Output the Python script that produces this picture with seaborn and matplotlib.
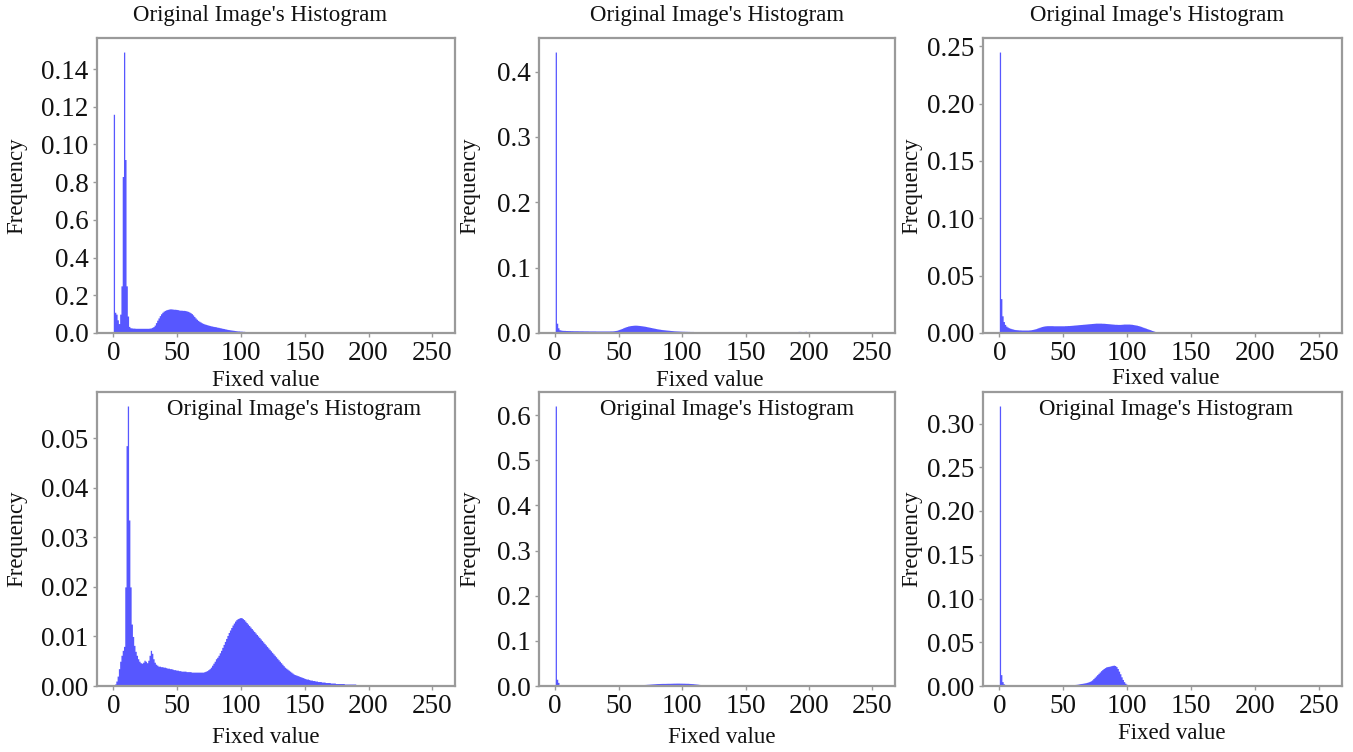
import numpy as np
import pandas as pd
import matplotlib
matplotlib.use("Agg")
import matplotlib.pyplot as plt
import seaborn as sns

# ---------------- data (frequency per grey level, in units of 1e-4) ----------------
grey_levels = list(range(256))
x_ticks = [0, 50, 100, 150, 200, 250]
title_text = "Original Image's Histogram"
x_label = "Fixed value"
y_label = "Frequency"

freq_a = [
    1160, 110, 100, 70, 50, 100, 250, 830, 1490, 920, 250, 90, 35, 28, 27, 26,
    26, 25, 25, 25, 25, 25, 25, 25, 25, 25, 25, 25, 26, 27, 30, 34,
    42, 55, 68, 80, 92, 102, 110, 116, 120, 123, 125, 127, 128, 128, 127, 126,
    126, 125, 124, 122, 121, 121, 120, 120, 119, 117, 115, 112, 108, 103, 96, 88,
    80, 73, 67, 62, 58, 54, 51, 48, 46, 44, 42, 40, 38, 37, 35, 34,
    33, 31, 30, 28, 27, 25, 24, 22, 21, 19, 18, 17, 16, 15, 14, 13,
    12, 11, 11, 10, 10, 9, 9, 8, 8, 8, 7, 7, 7, 7, 6, 6,
    6, 6, 6, 5, 5, 5, 5, 5, 5, 5, 5, 5, 4, 4, 4, 4,
    4, 4, 4, 4, 4, 4, 3, 3, 3, 3, 3, 3, 3, 3, 3, 3,
    3, 3, 3, 3, 3, 3, 2, 2, 2, 2, 2, 2, 2, 2, 2, 2,
    2, 2, 2, 1, 1, 1, 1, 1, 0, 0, 0, 0, 0, 0, 0, 0,
    0, 0, 0, 0, 0, 0, 0, 0, 0, 0, 0, 0, 0, 0, 0, 0,
    0, 0, 0, 0, 0, 0, 0, 0, 0, 0, 0, 0, 0, 0, 0, 0,
    0, 0, 0, 0, 0, 0, 0, 0, 0, 0, 0, 0, 0, 0, 0, 0,
    0, 0, 0, 0, 0, 0, 0, 0, 0, 0, 0, 0, 0, 0, 0, 0,
    0, 0, 0, 0, 0, 0, 0, 0, 0, 0, 0, 0, 0, 0, 0, 0,
]

freq_b = [
    4300, 150, 80, 50, 45, 42, 40, 40, 38, 38, 37, 37, 36, 36, 35, 35,
    35, 35, 34, 34, 34, 34, 33, 33, 33, 33, 32, 32, 32, 32, 32, 32,
    31, 31, 31, 31, 31, 31, 31, 31, 31, 31, 31, 32, 32, 33, 35, 38,
    42, 48, 55, 62, 70, 78, 86, 94, 100, 106, 110, 114, 116, 118, 120, 120,
    119, 117, 115, 112, 110, 107, 104, 100, 96, 92, 88, 84, 80, 76, 72, 68,
    64, 61, 58, 55, 52, 50, 48, 46, 44, 42, 40, 38, 36, 34, 33, 32,
    31, 30, 29, 28, 27, 27, 26, 26, 25, 25, 24, 24, 24, 23, 23, 23,
    22, 22, 22, 22, 21, 21, 21, 21, 21, 20, 20, 20, 20, 20, 20, 19,
    19, 19, 19, 19, 19, 18, 18, 18, 18, 18, 18, 18, 17, 17, 17, 17,
    17, 17, 17, 17, 16, 16, 16, 16, 16, 16, 16, 16, 15, 15, 15, 15,
    15, 15, 15, 15, 15, 14, 14, 14, 14, 14, 14, 14, 13, 13, 13, 13,
    13, 13, 13, 13, 12, 12, 12, 12, 12, 12, 12, 12, 14, 18, 22, 24,
    25, 24, 22, 20, 24, 26, 22, 18, 14, 10, 8, 6, 5, 4, 3, 3,
    2, 2, 1, 1, 1, 1, 0, 0, 0, 0, 0, 0, 0, 0, 0, 0,
    0, 0, 0, 0, 0, 0, 0, 0, 0, 0, 0, 0, 0, 0, 0, 0,
    0, 0, 0, 0, 0, 0, 0, 0, 0, 0, 0, 0, 0, 0, 0, 0,
]

freq_c = [
    2450, 300, 150, 100, 75, 60, 52, 46, 42, 38, 35, 32, 30, 29, 28, 27,
    27, 26, 26, 26, 26, 26, 26, 27, 28, 30, 32, 35, 38, 42, 46, 50,
    54, 57, 60, 62, 63, 64, 64, 64, 64, 64, 63, 63, 63, 63, 63, 63,
    63, 63, 63, 64, 64, 65, 65, 66, 67, 68, 69, 70, 71, 72, 73, 74,
    75, 76, 77, 78, 79, 80, 81, 82, 83, 84, 85, 86, 86, 86, 86, 86,
    85, 85, 84, 83, 82, 81, 80, 79, 78, 77, 76, 76, 75, 75, 75, 76,
    77, 78, 78, 78, 78, 78, 77, 76, 74, 72, 70, 68, 65, 62, 58, 54,
    50, 46, 42, 38, 34, 30, 26, 22, 18, 14, 10, 7, 4, 2, 1, 0,
    0, 0, 0, 0, 0, 0, 0, 0, 0, 0, 0, 0, 0, 0, 0, 0,
    0, 0, 0, 0, 0, 0, 0, 0, 0, 0, 0, 0, 0, 0, 0, 0,
    0, 0, 0, 0, 0, 0, 0, 0, 0, 0, 0, 0, 0, 0, 0, 0,
    0, 0, 0, 0, 0, 0, 0, 0, 0, 0, 0, 0, 0, 0, 0, 0,
    0, 0, 0, 0, 0, 0, 0, 0, 0, 0, 0, 0, 0, 0, 0, 0,
    0, 0, 0, 0, 0, 0, 0, 0, 0, 0, 0, 0, 0, 0, 0, 0,
    0, 0, 0, 0, 0, 0, 0, 0, 0, 0, 0, 0, 0, 0, 0, 0,
    0, 0, 0, 0, 0, 0, 0, 0, 0, 0, 0, 0, 0, 0, 0, 0,
]

freq_d = [
    0, 4, 10, 20, 35, 50, 62, 72, 80, 200, 485, 565, 335, 200, 125, 100,
    82, 70, 62, 55, 50, 47, 46, 48, 52, 50, 47, 52, 62, 72, 66, 55,
    48, 44, 42, 40, 40, 39, 39, 38, 38, 37, 36, 36, 35, 35, 34, 33,
    33, 32, 32, 31, 31, 30, 30, 30, 30, 29, 29, 29, 29, 28, 28, 28,
    28, 28, 28, 28, 28, 28, 28, 29, 30, 31, 33, 35, 38, 42, 46, 50,
    55, 58, 62, 67, 72, 78, 84, 90, 96, 102, 108, 113, 118, 123, 127, 131,
    134, 136, 137, 138, 138, 136, 134, 131, 128, 125, 122, 119, 116, 113, 110, 107,
    104, 101, 98, 95, 92, 89, 86, 83, 80, 77, 74, 71, 68, 65, 62, 59,
    56, 53, 50, 47, 44, 41, 38, 36, 34, 32, 30, 28, 26, 24, 23, 22,
    21, 20, 19, 18, 17, 16, 15, 14, 14, 13, 12, 12, 11, 11, 10, 10,
    9, 9, 9, 8, 8, 8, 7, 7, 7, 7, 6, 6, 6, 6, 5, 5,
    5, 5, 5, 5, 5, 4, 4, 4, 4, 4, 4, 4, 4, 4, 3, 3,
    3, 3, 3, 3, 3, 3, 3, 3, 3, 3, 3, 3, 3, 3, 3, 3,
    3, 3, 3, 3, 3, 3, 3, 3, 3, 3, 3, 3, 3, 3, 3, 3,
    3, 3, 3, 3, 3, 3, 3, 3, 3, 3, 3, 3, 3, 3, 2, 2,
    2, 2, 2, 2, 2, 2, 2, 2, 2, 2, 2, 2, 2, 2, 2, 2,
]

freq_e = [
    6200, 150, 80, 20, 10, 8, 8, 8, 8, 8, 8, 8, 8, 8, 8, 8,
    8, 8, 8, 8, 8, 8, 8, 8, 8, 8, 8, 8, 8, 8, 8, 8,
    8, 8, 8, 8, 8, 8, 8, 8, 8, 8, 8, 8, 8, 8, 8, 8,
    8, 8, 8, 8, 9, 9, 10, 10, 11, 12, 13, 14, 15, 16, 18, 20,
    22, 24, 26, 28, 30, 32, 34, 36, 38, 40, 42, 44, 46, 48, 50, 52,
    54, 55, 56, 57, 58, 58, 58, 59, 60, 60, 60, 61, 62, 63, 63, 64,
    64, 64, 63, 63, 62, 62, 61, 60, 60, 58, 56, 54, 52, 49, 46, 43,
    40, 36, 32, 28, 24, 20, 17, 14, 12, 10, 9, 8, 8, 7, 7, 7,
    7, 7, 7, 7, 6, 6, 6, 6, 6, 6, 6, 6, 6, 6, 6, 6,
    6, 6, 6, 6, 6, 6, 6, 6, 6, 6, 6, 6, 6, 6, 6, 6,
    6, 6, 6, 6, 6, 6, 6, 6, 5, 5, 5, 5, 5, 5, 5, 5,
    5, 5, 5, 5, 5, 5, 5, 5, 5, 5, 5, 5, 5, 5, 5, 5,
    5, 5, 5, 5, 5, 5, 5, 5, 5, 5, 5, 5, 5, 5, 5, 5,
    5, 5, 5, 5, 5, 5, 5, 5, 4, 4, 4, 4, 4, 4, 4, 4,
    4, 4, 4, 4, 4, 4, 4, 4, 4, 4, 4, 4, 4, 4, 4, 4,
    4, 4, 4, 4, 4, 4, 4, 4, 4, 4, 4, 4, 4, 4, 4, 0,
]

freq_f = [
    3200, 130, 50, 25, 18, 15, 13, 12, 11, 11, 10, 10, 10, 10, 10, 10,
    10, 10, 10, 10, 10, 10, 10, 10, 10, 10, 10, 10, 10, 10, 10, 10,
    10, 10, 10, 10, 10, 10, 10, 10, 10, 10, 10, 10, 10, 10, 10, 10,
    10, 10, 10, 11, 11, 12, 12, 13, 14, 15, 16, 18, 20, 22, 25, 28,
    30, 32, 35, 38, 42, 46, 52, 60, 70, 85, 100, 115, 130, 145, 160, 175,
    188, 200, 210, 218, 222, 225, 228, 232, 236, 238, 234, 222, 200, 170, 140, 105,
    75, 50, 32, 20, 15, 13, 12, 12, 11, 11, 11, 11, 11, 11, 11, 11,
    10, 10, 10, 10, 10, 10, 10, 10, 10, 10, 10, 10, 10, 10, 10, 10,
    10, 10, 10, 10, 10, 10, 10, 10, 10, 10, 10, 10, 10, 10, 10, 10,
    10, 10, 10, 10, 10, 10, 10, 10, 10, 10, 10, 10, 10, 10, 10, 10,
    10, 10, 10, 10, 10, 10, 10, 10, 10, 10, 10, 10, 10, 10, 10, 10,
    10, 10, 10, 10, 10, 10, 10, 10, 9, 9, 9, 9, 9, 9, 9, 9,
    8, 8, 8, 8, 8, 8, 8, 8, 8, 8, 8, 8, 8, 8, 8, 8,
    8, 8, 8, 8, 8, 8, 8, 8, 8, 8, 8, 8, 8, 8, 8, 8,
    8, 8, 8, 8, 8, 8, 8, 8, 8, 8, 8, 8, 8, 8, 8, 8,
    8, 8, 8, 8, 8, 8, 8, 8, 8, 8, 12, 14, 14, 12, 8, 0,
]
UNIT = 1e-4

# y tick values and their printed labels (as shown in the source figure)
yticks_a = [0.0, 0.02, 0.04, 0.06, 0.08, 0.10, 0.12, 0.14]
ylabels_a = ["0.0", "0.2", "0.4", "0.6", "0.8", "0.10", "0.12", "0.14"]
yticks_b = [0.0, 0.1, 0.2, 0.3, 0.4]
ylabels_b = ["0.0", "0.1", "0.2", "0.3", "0.4"]
yticks_c = [0.0, 0.05, 0.10, 0.15, 0.20, 0.25]
ylabels_c = ["0.00", "0.05", "0.10", "0.15", "0.20", "0.25"]
yticks_d = [0.0, 0.01, 0.02, 0.03, 0.04, 0.05]
ylabels_d = ["0.00", "0.01", "0.02", "0.03", "0.04", "0.05"]
yticks_e = [0.0, 0.1, 0.2, 0.3, 0.4, 0.5, 0.6]
ylabels_e = ["0.0", "0.1", "0.2", "0.3", "0.4", "0.5", "0.6"]
yticks_f = [0.0, 0.05, 0.10, 0.15, 0.20, 0.25, 0.30]
ylabels_f = ["0.00", "0.05", "0.10", "0.15", "0.20", "0.25", "0.30"]

# ---------------- style ----------------
sns.set_theme(style="white")
plt.rcParams["font.family"] = ["Liberation Serif", "DejaVu Serif"]

W, H = 1353, 752
fig = plt.figure(figsize=(W / 100, H / 100), dpi=100)

def px_axes(x0, y0, x1, y1):
    return fig.add_axes([x0 / W, 1 - y1 / H, (x1 - x0) / W, (y1 - y0) / H])

# layout per panel: axes box (px), title pos, xlabel pos, ylabel x (axes fractions)
panels = [
    dict(freq=freq_a, yt=yticks_a, yl=ylabels_a, box=(97, 38, 455, 333),
         title=(0.455, 1.075), xl=(0.47, -0.125), ylx=-0.196),
    dict(freq=freq_b, yt=yticks_b, yl=ylabels_b, box=(539, 38, 895, 333),
         title=(0.50, 1.075), xl=(0.48, -0.125), ylx=-0.166),
    dict(freq=freq_c, yt=yticks_c, yl=ylabels_c, box=(983, 38, 1342, 333),
         title=(0.485, 1.075), xl=(0.51, -0.12), ylx=-0.17),
    dict(freq=freq_d, yt=yticks_d, yl=ylabels_d, box=(97, 392, 455, 686),
         title=(0.55, 0.939), xl=(0.47, -0.14), ylx=-0.196),
    dict(freq=freq_e, yt=yticks_e, yl=ylabels_e, box=(539, 392, 895, 686),
         title=(0.528, 0.939), xl=(0.514, -0.14), ylx=-0.166),
    dict(freq=freq_f, yt=yticks_f, yl=ylabels_f, box=(983, 392, 1342, 686),
         title=(0.51, 0.939), xl=(0.526, -0.126), ylx=-0.17),
]

for i, p in enumerate(panels):
    ax = px_axes(*p["box"])
    df = pd.DataFrame({"level": grey_levels, "freq": np.array(p["freq"]) * UNIT})
    sns.histplot(data=df, x="level", weights="freq", bins=256, binrange=(0, 256),
                 element="step", fill=True, color="#0000ff", alpha=0.66,
                 linewidth=0, ax=ax)
    ax.set_xlim(-12.75, 267.75)
    ax.set_xticks(x_ticks)
    ax.set_xticklabels([str(t) for t in x_ticks])
    ax.set_yticks(p["yt"])
    ax.set_yticklabels(p["yl"])
    ax.tick_params(axis="both", labelsize=19.5, length=3, width=1, color="#999999",
                   bottom=True, left=True, pad=3, labelcolor="#111111")
    for s in ax.spines.values():
        s.set_color("#9a9a9a")
        s.set_linewidth(1.6)
    ax.set_xlabel(x_label, fontsize=16.5, color="#111111")
    ax.set_ylabel(y_label, fontsize=16.5, color="#111111")
    ax.xaxis.set_label_coords(*p["xl"])
    ax.yaxis.set_label_coords(p["ylx"], 0.5)
    tx, ty = p["title"]
    ax.text(tx, ty, title_text, transform=ax.transAxes, ha="center", va="center",
            fontsize=16.5, color="#111111")

fig.savefig("out.png", dpi=100)
